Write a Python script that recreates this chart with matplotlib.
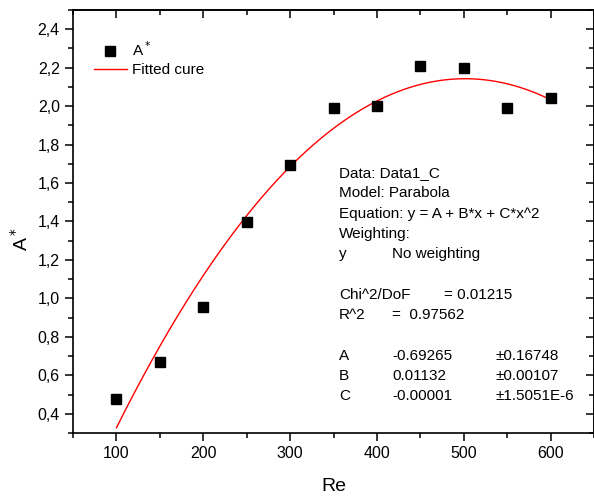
import numpy as np
import matplotlib
matplotlib.use("Agg")
import matplotlib.pyplot as plt
from matplotlib.ticker import MultipleLocator, FuncFormatter

plt.rcParams['font.family'] = ['Liberation Sans', 'DejaVu Sans']

re_vals = [100, 150, 200, 250, 300, 350, 400, 450, 500, 550, 600]
a_star = [0.478, 0.671, 0.953, 1.40, 1.695, 1.99, 2.00, 2.208, 2.20, 1.99, 2.044]

fit_lines = [
    ("Data: Data1_C", "", ""),
    ("Model: Parabola", "", ""),
    ("Equation: y = A + B*x + C*x^2", "", ""),
    ("Weighting:", "", ""),
    ("y", "No weighting", ""),
    ("", "", ""),
    ("Chi^2/DoF", "", "= 0.01215"),
    ("R^2", "=  0.97562", ""),
    ("", "", ""),
    ("A", "-0.69265", "±0.16748"),
    ("B", "0.01132", "±0.00107"),
    ("C", "-0.00001", "±1.5051E-6"),
]

fig = plt.figure(figsize=(5.94, 4.97), dpi=100)
ax = fig.add_axes([73/594, 1 - 433/497, 521/594, 423/497])

x = np.array(re_vals, dtype=float)
y = np.array(a_star)
coef = np.polyfit(x, y, 2)
xs = np.linspace(100, 600, 300)
ax.plot(xs, np.polyval(coef, xs), color='red', lw=1.0, label='Fitted cure', zorder=2)
ax.plot(x, y, 's', color='black', ms=6.5, label='A$^*$', zorder=3)

ax.set_xlim(50, 650)
ax.set_ylim(0.3, 2.5)
ax.set_xticks([100, 200, 300, 400, 500, 600])
ax.xaxis.set_minor_locator(MultipleLocator(50))
ax.yaxis.set_major_locator(MultipleLocator(0.2))
ax.yaxis.set_minor_locator(MultipleLocator(0.1))
ax.yaxis.set_major_formatter(FuncFormatter(lambda v, p: f"{v:.1f}".replace('.', ',')))

for s in ax.spines.values():
    s.set_linewidth(1.2)
ax.tick_params(which='both', direction='out', top=False, right=False,
               labelsize=11.5, width=1.1, colors='black')
ax.tick_params(which='major', length=6)
ax.tick_params(which='minor', length=3.5)

# inward ticks along the top and right edges
ax2x = ax.secondary_xaxis('top')
ax2x.set_xticks([100, 200, 300, 400, 500, 600])
ax2x.xaxis.set_minor_locator(MultipleLocator(50))
ax2x.tick_params(which='both', direction='in', labeltop=False, width=1.1)
ax2x.tick_params(which='major', length=6)
ax2x.tick_params(which='minor', length=3.5)
ax2x.spines['top'].set_linewidth(1.2)
ax2y = ax.secondary_yaxis('right')
ax2y.yaxis.set_major_locator(MultipleLocator(0.2))
ax2y.yaxis.set_minor_locator(MultipleLocator(0.1))
ax2y.tick_params(which='both', direction='in', labelright=False, width=1.1)
ax2y.tick_params(which='major', length=6)
ax2y.tick_params(which='minor', length=3.5)
ax2y.spines['right'].set_linewidth(1.2)

ax.set_xlabel('Re', fontsize=14, labelpad=12)
ax.set_ylabel('A$^*$', fontsize=14, labelpad=4)
ax.yaxis.label.set_y(0.46)

leg = ax.legend(handles=ax.get_lines()[::-1], loc='upper left', frameon=False,
                fontsize=11, bbox_to_anchor=(0.040, 0.928), handlelength=2.15,
                handletextpad=0.33, labelspacing=0.27, borderaxespad=0, borderpad=0)

y0 = 173
for i, (c1, c2, c3) in enumerate(fit_lines):
    yy = 1 - (y0 + i * 20.3) / 497
    if c1:
        fig.text(339/594, yy, c1, fontsize=11, va='center', ha='left')
    if c2:
        fig.text(392/594, yy, c2, fontsize=11, va='center', ha='left')
    if c3:
        fig.text((444 if i == 6 else 496)/594, yy, c3, fontsize=11, va='center', ha='left')

fig.savefig('out.png', dpi=100)
